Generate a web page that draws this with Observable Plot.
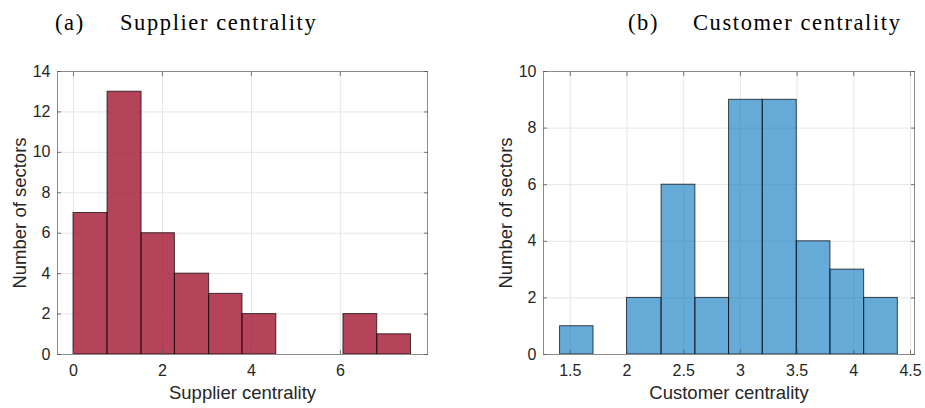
<!DOCTYPE html>
<html>
<head>
<meta charset="utf-8">
<script src="https://cdn.jsdelivr.net/npm/d3@7"></script>
<script src="https://cdn.jsdelivr.net/npm/@observablehq/plot@0.6"></script>
<style>
  html, body { margin: 0; padding: 0; background: #fff; }
  #wrap { display: flex; width: 925px; height: 408px; overflow: hidden; }
  .col { position: relative; }
  .title { height: 50px; position: relative; font-family: "Liberation Serif", serif; font-size: 22.5px; letter-spacing: 1.6px; color: #000; }
  .title span { position: absolute; top: 10px; white-space: nowrap; }
  svg { display: block; }
</style>
</head>
<body>
<div id="wrap">
  <div class="col" id="colA" style="width:462px">
    <div class="title"><span style="left:55px">(a)</span><span style="left:120px">Supplier centrality</span></div>
  </div>
  <div class="col" id="colB" style="width:463px">
    <div class="title"><span style="left:166px">(b)</span><span style="left:231px">Customer centrality</span></div>
  </div>
</div>
<script>
// Panel (a): supplier centrality histogram
const supplierEdges = [0, 0.765, 1.53, 2.28, 3.05, 3.80, 4.56, 5.31, 6.07, 6.83, 7.59];
const supplierCounts = [7, 13, 6, 4, 3, 2, 0, 0, 2, 1];
const supplierTicks = [0, 2, 4, 6];
const supplierYTicks = [0, 2, 4, 6, 8, 10, 12, 14];

// Panel (b): customer centrality histogram
const customerEdges = [1.41, 1.705, 2.0, 2.305, 2.603, 2.9, 3.197, 3.497, 3.794, 4.091, 4.388];
const customerCounts = [1, 0, 2, 6, 2, 9, 9, 4, 3, 2];
const customerTicks = [1.5, 2, 2.5, 3, 3.5, 4, 4.5];
const customerYTicks = [0, 2, 4, 6, 8, 10];

function bins(edges, counts) {
  return counts.map((c, i) => ({x1: edges[i], x2: edges[i + 1], count: c}));
}

const ink = "#262626";
const font = "'Liberation Sans', Arial, sans-serif";

function panel({data, xDomain, yDomain, xTicks, yTicks, xLabel, fill, fillOpacity, width, marginLeft, marginRight}) {
  const nonzero = data.filter(d => d.count > 0);
  const zero = data.filter(d => d.count === 0);
  const tickStyle = {tickFormat: () => "", stroke: "#555", strokeOpacity: 0.8, tickSize: -4, label: null};
  return Plot.plot({
    width, height: 358,
    marginTop: 21, marginBottom: 54, marginLeft, marginRight,
    style: {fontFamily: font, color: ink, background: "#fff", overflow: "visible"},
    x: {domain: xDomain, ticks: xTicks, label: null},
    y: {domain: yDomain, ticks: yTicks, label: null},
    marks: [
      Plot.gridX(xTicks, {stroke: "#e6e6e6", strokeOpacity: 1}),
      Plot.gridY(yTicks, {stroke: "#e6e6e6", strokeOpacity: 1}),
      Plot.rectY(nonzero, {x1: "x1", x2: "x2", y1: 0, y2: "count", fill, fillOpacity, stroke: "#000", strokeOpacity: 0.7, strokeWidth: 1}),
      Plot.ruleY(zero, {x1: "x1", x2: "x2", y: 0, stroke: "#000", strokeOpacity: 0.7}),
      Plot.frame({stroke: "#8c8c8c", strokeWidth: 1}),
      Plot.axisX(xTicks, {anchor: "bottom", ...tickStyle}),
      Plot.axisX(xTicks, {anchor: "top", ...tickStyle}),
      Plot.axisY(yTicks, {anchor: "left", ...tickStyle}),
      Plot.axisY(yTicks, {anchor: "right", ...tickStyle}),
      Plot.axisX(xTicks, {anchor: "bottom", tickSize: 0, tickPadding: 10, fontSize: 16, fill: ink, label: null, tickFormat: d => String(d)}),
      Plot.axisY(yTicks, {anchor: "left", tickSize: 0, tickPadding: 7, fontSize: 16, fill: ink, label: null, tickFormat: d => String(d)}),
      Plot.text([xLabel], {frameAnchor: "bottom", dy: 39, fontSize: 18.5, fill: ink, text: d => d, lineAnchor: "middle", textAnchor: "middle"}),
      Plot.text(["Number of sectors"], {frameAnchor: "left", dx: -37, rotate: -90, fontSize: 18.5, fill: ink, text: d => d, textAnchor: "middle", lineAnchor: "middle"})
    ]
  });
}

document.getElementById("colA").appendChild(panel({
  data: bins(supplierEdges, supplierCounts),
  xDomain: [-0.36, 7.96], yDomain: [0, 14],
  xTicks: supplierTicks, yTicks: supplierYTicks,
  xLabel: "Supplier centrality",
  fill: "#a2142f", fillOpacity: 0.8,
  width: 462, marginLeft: 57, marginRight: 35
}));

document.getElementById("colB").appendChild(panel({
  data: bins(customerEdges, customerCounts),
  xDomain: [1.264, 4.535], yDomain: [0, 10],
  xTicks: customerTicks, yTicks: customerYTicks,
  xLabel: "Customer centrality",
  fill: "#0072bd", fillOpacity: 0.6,
  width: 463, marginLeft: 81, marginRight: 11
}));
</script>
</body>
</html>
